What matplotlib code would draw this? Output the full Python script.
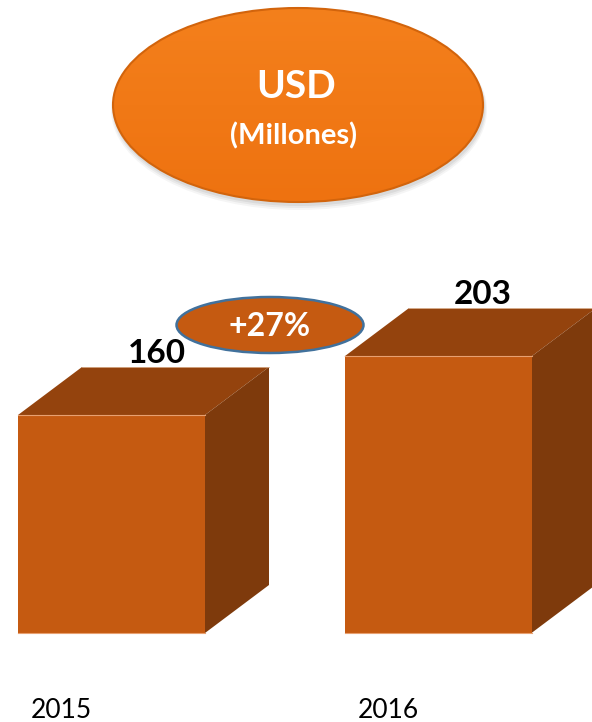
import numpy as np
import matplotlib
matplotlib.use("Agg")
import matplotlib.pyplot as plt
from matplotlib.patches import Ellipse, Polygon

# ---- data ----
years = ["2015", "2016"]
values = [160, 203]
value_labels = ["160", "203"]
change_label = "+27%"
title_main = "USD"
title_sub = "(Millones)"

W, H = 592, 722
fig = plt.figure(figsize=(W / 100, H / 100), dpi=100)
fig.patch.set_facecolor("white")

FONT = ["Lato", "DejaVu Sans"]

# ---- bar axes (data coordinates) ----
ax = fig.add_axes([0, 0, 1, 1])
spacing_px = 326.5
px_per_unit = 1.3625
x0_px = 111.5
base_px = 633
ax.set_xlim(-x0_px / spacing_px, (W - x0_px) / spacing_px)
ax.set_ylim(-(H - base_px) / px_per_unit, base_px / px_per_unit)
ax.axis("off")

bar_w = 187 / spacing_px
dx = 64 / spacing_px
dy = 48 / px_per_unit

front_c = "#C55A11"
top_c = "#94430D"
side_c = "#7E3A0C"

xs = np.arange(len(values))
ax.bar(xs, values, width=bar_w, color=front_c, zorder=3, linewidth=0)
for x, v, lab, yr in zip(xs, values, value_labels, years):
    l, r = x - bar_w / 2, x + bar_w / 2
    top = Polygon([(l, v), (r, v), (r + dx, v + dy), (l + dx, v + dy)],
                  closed=True, facecolor=top_c, edgecolor="none", zorder=2)
    side = Polygon([(r, 0), (r + dx, dy), (r + dx, v + dy), (r, v)],
                   closed=True, facecolor=side_c, edgecolor="none", zorder=2)
    ax.add_patch(top)
    ax.add_patch(side)
    ax.plot([l, r], [v, v], color="#E8A070", lw=0.8, zorder=4)
    ax.plot([l, r], [0, 0], color="#E8A070", lw=0.8, zorder=4)
    ax.plot([l + dx, r + dx], [v + dy, v + dy], color="#D9B090", lw=0.6, zorder=4)
    ax.text(x + 45 / spacing_px, v + dy + 4 / px_per_unit, lab,
            ha="center", va="baseline", fontsize=24, fontweight="bold",
            color="black", family=FONT, zorder=5)
    ax.text(x - 50 / spacing_px, -(710 - base_px) / px_per_unit, yr,
            ha="center", va="center", fontsize=19, color="black",
            family=FONT, zorder=5)

# ---- decoration axes (pixel coordinates) ----
ov = fig.add_axes([0, 0, 1, 1], zorder=10)
ov.set_xlim(0, W)
ov.set_ylim(H, 0)
ov.axis("off")
ov.patch.set_alpha(0)

# top ellipse with shadow and gradient
cx, cy, ew, eh = 298, 105, 370, 194
for k, a in enumerate([0.06, 0.05, 0.04]):
    ov.add_patch(Ellipse((cx + 1, cy + 3 + k), ew + 2 + 2 * k, eh + 2 + 2 * k,
                         facecolor="black", alpha=a, edgecolor="none", zorder=1))
ell = Ellipse((cx, cy), ew, eh, facecolor="none", edgecolor="none", zorder=2)
ov.add_patch(ell)
yy = np.linspace(0, 1, 200)[:, None]
c_top = np.array([0xF4, 0x80, 0x1C]) / 255
c_bot = np.array([0xEE, 0x72, 0x10]) / 255
grad = c_top * (1 - yy[..., None]) + c_bot * yy[..., None]
grad = np.repeat(grad, 2, axis=1)
im = ov.imshow(grad, extent=[cx - ew / 2, cx + ew / 2, cy + eh / 2, cy - eh / 2],
               aspect="auto", zorder=2, interpolation="bilinear")
im.set_clip_path(ell)
ov.add_patch(Ellipse((cx, cy), ew, eh, facecolor="none", edgecolor="#D2640C",
                     lw=1.5, zorder=3))
ov.set_xlim(0, W)
ov.set_ylim(H, 0)
ov.text(cx - 2, 87, title_main, ha="center", va="center", fontsize=28,
        fontweight="bold", color="white", family=FONT, zorder=4)
ov.text(cx - 4, 136, title_sub, ha="center", va="center", fontsize=21,
        fontweight="bold", color="white", family=FONT, zorder=4)

# change oval
ov.add_patch(Ellipse((270, 325), 187, 56, facecolor="#C55A11",
                     edgecolor="#41719C", lw=1.8, zorder=5))
ov.text(270, 327, change_label, ha="center", va="center", fontsize=23,
        fontweight="bold", color="white", family=FONT, zorder=6)

fig.savefig("out.png", dpi=100, facecolor="white")
